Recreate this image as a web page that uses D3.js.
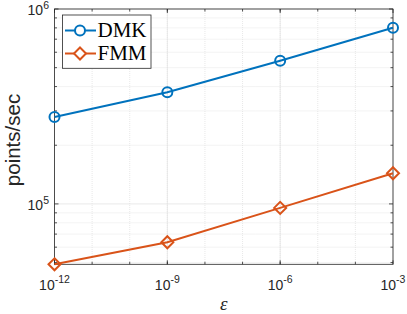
<!DOCTYPE html>
<html>
<head>
<meta charset="utf-8">
<script src="https://cdn.jsdelivr.net/npm/d3@7"></script>
<style>
body { margin: 0; background: #fff; }
svg { display: block; }
</style>
</head>
<body>
<svg id="chart" width="407" height="314"></svg>
<script>
// data
var tolerances = [1e-12, 1e-9, 1e-6, 1e-3];
var dmkRate = [2.79e5, 3.74e5, 5.43e5, 8.02e5];
var fmmRate = [4.9e4, 6.36e4, 9.54e4, 1.436e5];
var seriesNames = ["DMK", "FMM"];
var xTickExp = ["-12", "-9", "-6", "-3"];
var yTickExp = ["5", "6"];

var svg = d3.select("#chart");
var pLeft = 54.5, pRight = 393, pTop = 9, pBottom = 264.3;
var axisColor = "#262626";

var x = d3.scaleLog().domain([1e-12, 1e-3]).range([pLeft, pRight]);
var y = d3.scaleLog().domain([4.9e4, 1e6]).range([pBottom, pTop]);

// minor positions
var xMinor = d3.range(-11, -3).map(function (e) { return Math.pow(10, e); });
var yMinor = [];
[4, 5].forEach(function (d) {
    for (var k = 2; k <= 9; k++) {
        var v = k * Math.pow(10, d);
        if (v >= 4.9e4 && v <= 1e6) yMinor.push(v);
    }
});
var xMajor = tolerances;
var yMajor = [1e5, 1e6];

var grid = svg.append("g");
grid.selectAll(".xmin").data(xMinor).enter().append("line")
    .attr("x1", d => x(d)).attr("x2", d => x(d))
    .attr("y1", pTop).attr("y2", pBottom)
    .attr("stroke", "#e2e2e2").attr("stroke-width", 0.8).attr("stroke-dasharray", "1,1");
grid.selectAll(".ymin").data(yMinor).enter().append("line")
    .attr("y1", d => y(d)).attr("y2", d => y(d))
    .attr("x1", pLeft).attr("x2", pRight)
    .attr("stroke", "#e2e2e2").attr("stroke-width", 0.8).attr("stroke-dasharray", "1,1");
grid.selectAll(".xmaj").data(xMajor).enter().append("line")
    .attr("x1", d => x(d)).attr("x2", d => x(d))
    .attr("y1", pTop).attr("y2", pBottom)
    .attr("stroke", "#e3e3e3").attr("stroke-width", 0.8);
grid.selectAll(".ymaj").data(yMajor).enter().append("line")
    .attr("y1", d => y(d)).attr("y2", d => y(d))
    .attr("x1", pLeft).attr("x2", pRight)
    .attr("stroke", "#e3e3e3").attr("stroke-width", 0.8);

// ticks pointing inward on all four sides
var ticks = svg.append("g").attr("stroke", axisColor).attr("stroke-width", 0.8);
function tickSet(vals, len) {
    vals.forEach(function (d) {
        ticks.append("line").attr("x1", x(d)).attr("x2", x(d)).attr("y1", pBottom).attr("y2", pBottom - len);
        ticks.append("line").attr("x1", x(d)).attr("x2", x(d)).attr("y1", pTop).attr("y2", pTop + len);
    });
}
tickSet(xMajor, 4);
tickSet(xMinor, 2.5);
function ytickSet(vals, len) {
    vals.forEach(function (d) {
        ticks.append("line").attr("y1", y(d)).attr("y2", y(d)).attr("x1", pLeft).attr("x2", pLeft + len);
        ticks.append("line").attr("y1", y(d)).attr("y2", y(d)).attr("x1", pRight).attr("x2", pRight - len);
    });
}
ytickSet(yMajor, 4);
ytickSet(yMinor, 2.5);

svg.append("rect").attr("x", pLeft).attr("y", pTop)
    .attr("width", pRight - pLeft).attr("height", pBottom - pTop)
    .attr("fill", "none").attr("stroke", axisColor).attr("stroke-width", 0.8);

// tick labels
var font = "Liberation Sans, Arial, sans-serif";
var xl = svg.append("g").attr("font-family", font).attr("font-size", 14).attr("fill", axisColor);
xMajor.forEach(function (d, i) {
    var t = xl.append("text").attr("x", x(d)).attr("y", 289.5).attr("text-anchor", "middle");
    t.append("tspan").text("10");
    t.append("tspan").attr("dy", -7).attr("font-size", 10.5).text(xTickExp[i]);
});
yMajor.forEach(function (d, i) {
    var t = xl.append("text").attr("x", 49).attr("y", y(d) + 6).attr("text-anchor", "end");
    t.append("tspan").text("10");
    t.append("tspan").attr("dy", -6).attr("font-size", 10.5).text(yTickExp[i]);
});

// axis titles
svg.append("text").attr("x", (pLeft + pRight) / 2).attr("y", 310)
    .attr("text-anchor", "middle").attr("font-family", "Liberation Serif, serif")
    .attr("font-style", "italic").attr("font-size", 19).attr("fill", axisColor).text("ε");
svg.append("text").attr("transform", "translate(20,140) rotate(-90)")
    .attr("text-anchor", "middle").attr("font-family", font)
    .attr("font-size", 20.5).attr("fill", axisColor).text("points/sec");

// series
var colors = ["#0072BD", "#D95319"];
var series = [dmkRate, fmmRate];
var line = d3.line().x(d => x(d[0])).y(d => y(d[1]));
var diamond = function (cx, cy, r) {
    return "M" + cx + "," + (cy - r) + "L" + (cx + r) + "," + cy + "L" + cx + "," + (cy + r) + "L" + (cx - r) + "," + cy + "Z";
};

series.forEach(function (vals, s) {
    var pts = tolerances.map((t, i) => [t, vals[i]]);
    svg.append("path").datum(pts).attr("d", line)
        .attr("fill", "none").attr("stroke", colors[s]).attr("stroke-width", 2);
    pts.forEach(function (p) {
        if (s == 0) {
            svg.append("circle").attr("cx", x(p[0])).attr("cy", y(p[1])).attr("r", 5)
                .attr("fill", "none").attr("stroke", colors[s]).attr("stroke-width", 2);
        } else {
            svg.append("path").attr("d", diamond(x(p[0]), y(p[1]), 6))
                .attr("fill", "none").attr("stroke", colors[s]).attr("stroke-width", 2);
        }
    });
});

// legend
var lg = svg.append("g");
lg.append("rect").attr("x", 62.5).attr("y", 15).attr("width", 88.5).attr("height", 53.3)
    .attr("fill", "#fff").attr("stroke", axisColor).attr("stroke-width", 0.8);
seriesNames.forEach(function (name, i) {
    var ly = 30.5 + i * 23;
    lg.append("line").attr("x1", 65).attr("x2", 96).attr("y1", ly).attr("y2", ly)
        .attr("stroke", colors[i]).attr("stroke-width", 2);
    if (i == 0) {
        lg.append("circle").attr("cx", 80).attr("cy", ly).attr("r", 5)
            .attr("fill", "#fff").attr("stroke", colors[i]).attr("stroke-width", 2);
    } else {
        lg.append("path").attr("d", diamond(80, ly, 6))
            .attr("fill", "#fff").attr("stroke", colors[i]).attr("stroke-width", 2);
    }
    lg.append("text").attr("x", 97.5).attr("y", ly + 6.8).attr("font-family", "Liberation Serif, serif")
        .attr("font-size", 21).attr("fill", "#000").text(name);
});
</script>
</body>
</html>
